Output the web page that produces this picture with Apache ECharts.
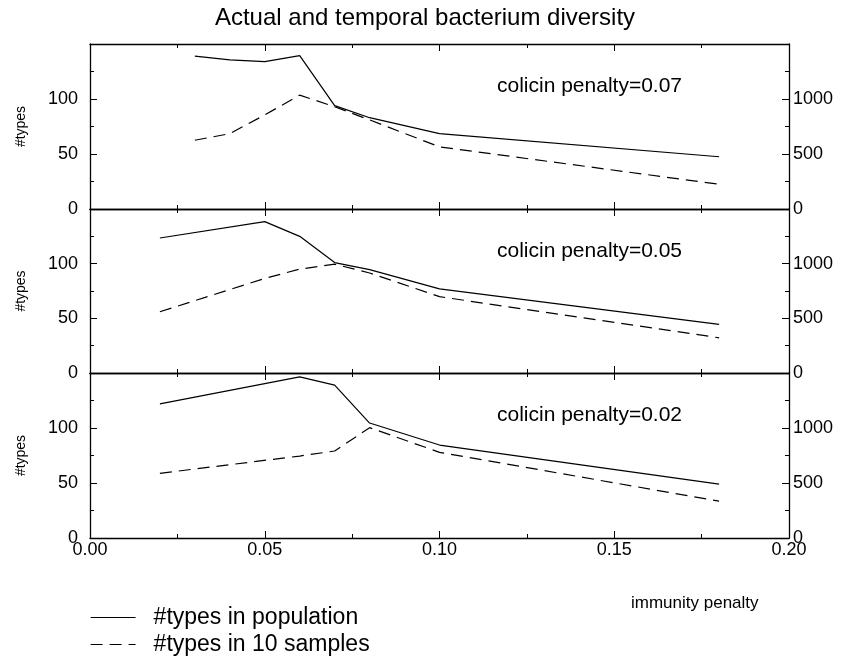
<!DOCTYPE html>
<html>
<head>
<meta charset="utf-8">
<script src="https://cdn.jsdelivr.net/npm/echarts@6/dist/echarts.min.js"></script>
<style>
  html, body { margin: 0; padding: 0; background: #fff; }
  #chart { width: 850px; height: 657px; }
</style>
</head>
<body>
<div id="chart"></div>
<script>
// Immunity penalty values and diversity counts for each colicin penalty panel
const panelLabels = ['colicin penalty=0.07', 'colicin penalty=0.05', 'colicin penalty=0.02'];

const x007 = [0.03, 0.04, 0.05, 0.06, 0.07, 0.08, 0.10, 0.18];
const pop007 = [139, 135.5, 134, 139.5, 94, 83, 68.5, 47.5];
const smp007 = [625, 685, 855, 1035, 930, 810, 565, 225];

const x005 = [0.02, 0.05, 0.06, 0.07, 0.08, 0.10, 0.18];
const pop005 = [123.5, 138.5, 125, 101, 94.5, 77, 44.5];
const smp005 = [560, 865, 950, 995, 915, 698, 322];

const x002 = [0.02, 0.06, 0.07, 0.08, 0.10, 0.18];
const pop002 = [122, 146.5, 139, 104.5, 84.5, 49];
const smp002 = [588, 745, 791, 1003, 779, 335];

const xTicks = ['0.00', '0.05', '0.10', '0.15', '0.20'];
const leftTicks = [0, 50, 100];
const rightTicks = [0, 500, 1000];

const seriesNames = ['#types in population', '#types in 10 samples'];

const panels = [
  { x: x007, pop: pop007, smp: smp007 },
  { x: x005, pop: pop005, smp: smp005 },
  { x: x002, pop: pop002, smp: smp002 }
];

const FONT = 'Liberation Sans, Arial, Helvetica, sans-serif';
const gridTops = [44, 209, 373];
const gridHeights = [165, 164, 165];
const GL = 90, GW = 699;

const black = '#000';
const axisLine = { show: true, onZero: false, lineStyle: { color: black, width: 1.3 } };
const tick = { show: true, inside: true, length: 7, lineStyle: { color: black, width: 1 } };
const minor = { show: true, splitNumber: 2, length: 4, lineStyle: { color: black, width: 1 } };

const grids = [], xAxes = [], yAxes = [], series = [], graphics = [];

panels.forEach((p, i) => {
  grids.push({ left: GL, top: gridTops[i], width: GW, height: gridHeights[i], containLabel: false });

  const isLast = i === panels.length - 1;
  ['bottom', 'top'].forEach((pos) => {
    xAxes.push({
      type: 'value', gridIndex: i, position: pos, min: 0, max: 0.2, interval: 0.05,
      axisLine: axisLine, axisTick: tick, minorTick: minor,
      splitLine: { show: false }, minorSplitLine: { show: false },
      axisLabel: {
        show: isLast && pos === 'bottom', color: black, fontFamily: FONT, fontSize: 18, margin: 3,
        formatter: (v) => xTicks[Math.round(v / 0.05)] || ''
      }
    });
  });

  yAxes.push({
    type: 'value', gridIndex: i, position: 'left', min: 0, max: 150, interval: 50,
    axisLine: axisLine, axisTick: tick, minorTick: minor,
    splitLine: { show: false }, minorSplitLine: { show: false },
    name: '#types', nameLocation: 'middle', nameGap: 62, nameRotate: 90,
    nameTextStyle: { color: black, fontFamily: FONT, fontSize: 14 },
    axisLabel: {
      color: black, fontFamily: FONT, fontSize: 18, margin: 12,
      formatter: (v) => (leftTicks.indexOf(v) >= 0 ? String(v) : '')
    }
  });
  yAxes.push({
    type: 'value', gridIndex: i, position: 'right', min: 0, max: 1500, interval: 500,
    axisLine: axisLine, axisTick: tick, minorTick: minor,
    splitLine: { show: false }, minorSplitLine: { show: false },
    axisLabel: {
      color: black, fontFamily: FONT, fontSize: 18, margin: 4,
      formatter: (v) => (rightTicks.indexOf(v) >= 0 ? String(v) : '')
    }
  });

  series.push({
    name: seriesNames[0], type: 'line', xAxisIndex: 2 * i, yAxisIndex: 2 * i,
    data: p.x.map((xv, k) => [xv, p.pop[k]]),
    symbol: 'none', showSymbol: false, animation: false,
    lineStyle: { color: black, width: 1.2, type: 'solid' }, itemStyle: { color: black }
  });
  series.push({
    name: seriesNames[1], type: 'line', xAxisIndex: 2 * i, yAxisIndex: 2 * i + 1,
    data: p.x.map((xv, k) => [xv, p.smp[k]]),
    symbol: 'none', showSymbol: false, animation: false,
    lineStyle: { color: black, width: 1.2, type: [12, 7] }, itemStyle: { color: black }
  });

  graphics.push({
    type: 'text', left: 497, top: gridTops[i] + 32,
    style: { text: panelLabels[i], fill: black, font: '21px ' + FONT }
  });
});

graphics.push({
  type: 'text', left: 631, top: 595,
  style: { text: 'immunity penalty', fill: black, font: '17px ' + FONT }
});

const chart = echarts.init(document.getElementById('chart'), null, { renderer: 'canvas' });
chart.setOption({
  animation: false,
  backgroundColor: '#fff',
  title: {
    text: 'Actual and temporal bacterium diversity', left: 'center', top: 1,
    textStyle: { color: black, fontFamily: FONT, fontSize: 24, fontWeight: 'normal' }
  },
  legend: {
    data: seriesNames, orient: 'vertical', left: 90, top: 606, padding: 0,
    itemWidth: 45, itemHeight: 14, itemGap: 4,
    itemStyle: { opacity: 0 },
    lineStyle: { width: 1.2 },
    textStyle: { color: black, fontFamily: FONT, fontSize: 23, padding: [0, 0, 0, 13] },
    selectedMode: false
  },
  grid: grids,
  xAxis: xAxes,
  yAxis: yAxes,
  series: series,
  graphic: graphics
});
</script>
</body>
</html>
